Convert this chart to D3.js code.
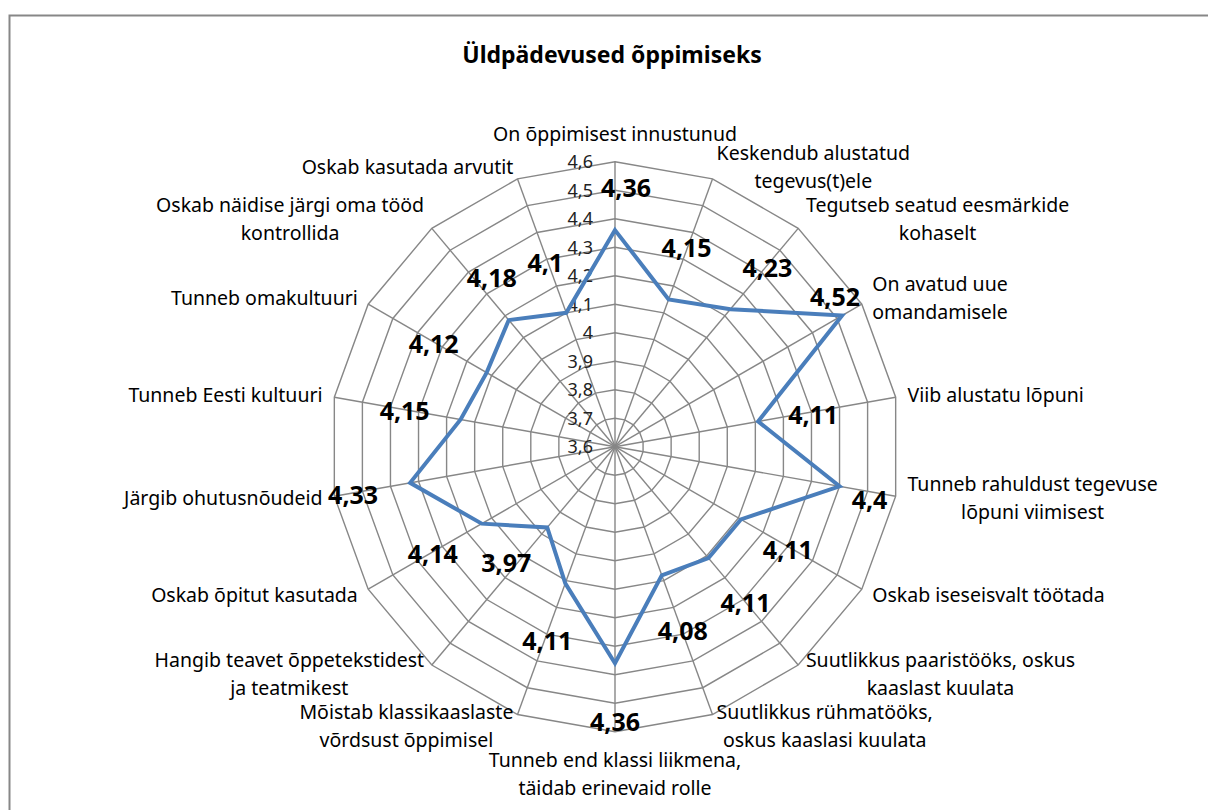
<!DOCTYPE html>
<meta charset="utf-8">
<style>
body { margin: 0; background: #fff; }
text { font-family: "Noto Sans", sans-serif; fill: #000; }
</style>
<body>
<script src="https://d3js.org/d3.v7.min.js"></script>
<script>

var width = 1208,
    height = 810;

// chart data
var categories = [
  "On õppimisest innustunud",
  "Keskendub alustatud\ntegevus(t)ele",
  "Tegutseb seatud eesmärkide\nkohaselt",
  "On avatud uue\nomandamisele",
  "Viib alustatu lõpuni",
  "Tunneb rahuldust tegevuse\nlõpuni viimisest",
  "Oskab iseseisvalt töötada",
  "Suutlikkus paaristööks, oskus\nkaaslast kuulata",
  "Suutlikkus rühmatööks,\noskus kaaslasi kuulata",
  "Tunneb end klassi liikmena,\ntäidab erinevaid rolle",
  "Mõistab klassikaaslaste\nvõrdsust õppimisel",
  "Hangib teavet õppetekstidest\nja teatmikest",
  "Oskab õpitut kasutada",
  "Järgib ohutusnõudeid",
  "Tunneb Eesti kultuuri",
  "Tunneb omakultuuri",
  "Oskab näidise järgi oma tööd\nkontrollida",
  "Oskab kasutada arvutit"
];
var values = [4.36, 4.15, 4.23, 4.52, 4.11, 4.4, 4.11, 4.11, 4.08, 4.36, 4.11, 3.97, 4.14, 4.33, 4.15, 4.12, 4.18, 4.1];
var tickValues = [3.6, 3.7, 3.8, 3.9, 4.0, 4.1, 4.2, 4.3, 4.4, 4.5, 4.6];
var tickLabels = ["3,6", "3,7", "3,8", "3,9", "4", "4,1", "4,2", "4,3", "4,4", "4,5", "4,6"];
var title = "Üldpädevused õppimiseks";

// layout: where each value label sits relative to its point (px)
var labelNudge = [[11,-42],[18,-51],[37,-41],[-7,-18],[55,-6],[30,14],[47,31],[37,45],[21,56],
                  [0,59],[-18,58],[-41,36],[-49,31],[-57,12],[-56,-8],[-53,-28],[-17,-42],[-21,-50]];

var cx = 615, cy = 446.7, R = 285;

var svg = d3.select("body").append("svg")
    .attr("width", width)
    .attr("height", height);

svg.append("rect")
    .attr("x", 9.5).attr("y", 15.5)
    .attr("width", 1220).attr("height", 820)
    .style("fill", "#fff")
    .style("stroke", "#878787")
    .style("stroke-width", 2);

svg.append("text")
    .attr("x", 612).attr("y", 63)
    .attr("text-anchor", "middle")
    .style("font-size", "23px")
    .style("font-weight", "bold")
    .text(title);

var r = d3.scaleLinear().domain([3.6, 4.6]).range([0, R]);
var angle = d3.scaleLinear().domain([0, categories.length]).range([0, 2 * Math.PI]);

var g = svg.append("g").attr("transform", "translate(" + cx + "," + cy + ")");

function pt(i, v) {
  var a = angle(i);
  return [Math.sin(a) * r(v), -Math.cos(a) * r(v)];
}

var ring = d3.lineRadial()
    .angle(function(d, i) { return angle(i); })
    .curve(d3.curveLinearClosed);

// grid rings
g.selectAll("path.ring")
    .data(tickValues.slice(1))
    .enter().append("path")
    .attr("class", "ring")
    .attr("d", function(t) { return ring.radius(function() { return r(t); })(categories); })
    .style("fill", "none")
    .style("stroke", "#878787")
    .style("stroke-width", 1.4);

// spokes
g.selectAll("line.spoke")
    .data(categories)
    .enter().append("line")
    .attr("class", "spoke")
    .attr("x1", 0).attr("y1", 0)
    .attr("x2", function(d, i) { return pt(i, 4.6)[0]; })
    .attr("y2", function(d, i) { return pt(i, 4.6)[1]; })
    .style("stroke", "#878787")
    .style("stroke-width", 1.4);

// tick labels
g.selectAll("text.tick")
    .data(tickValues)
    .enter().append("text")
    .attr("class", "tick")
    .attr("x", -22)
    .attr("y", function(t) { return -r(t); })
    .attr("dy", "0.35em")
    .attr("text-anchor", "end")
    .style("font-size", "18px")
    .style("fill", "#222")
    .text(function(t, i) { return tickLabels[i]; });

// data line
g.append("path")
    .datum(values)
    .attr("d", d3.lineRadial()
        .angle(function(d, i) { return angle(i); })
        .radius(function(d) { return r(d); })
        .curve(d3.curveLinearClosed))
    .style("fill", "none")
    .style("stroke", "#4a7ebb")
    .style("stroke-width", 4)
    .style("stroke-linejoin", "miter");

// category labels
var lh = 28;
categories.forEach(function(c, i) {
  var a = angle(i), s = Math.sin(a), co = Math.cos(a);
  var p = pt(i, 4.6);
  var ax = p[0] + 12 * s, ay = p[1] - 12 * co;
  var lines = c.split("\n");
  var grp = g.append("g");
  var texts = lines.map(function(l) {
    return grp.append("text").style("font-size", "19.5px").attr("text-anchor", "middle").text(l);
  });
  var w = d3.max(texts, function(t) { return t.node().getComputedTextLength(); });
  var h = lines.length * lh;
  var left, top;
  if (Math.abs(s) < 0.01) {
    left = ax - w / 2;
    top = co > 0 ? ay - 2 - h : ay + 2;
  } else {
    left = s > 0 ? ax : ax - w;
    top = ay - h / 2;
  }
  texts.forEach(function(t, k) {
    t.attr("x", left + w / 2).attr("y", top + lh * (k + 0.5)).attr("dy", "0.35em");
  });
});

// value labels
g.selectAll("text.val")
    .data(values)
    .enter().append("text")
    .attr("class", "val")
    .attr("x", function(d, i) { return pt(i, d)[0] + labelNudge[i][0]; })
    .attr("y", function(d, i) { return pt(i, d)[1] + labelNudge[i][1]; })
    .attr("dy", "0.35em")
    .attr("text-anchor", "middle")
    .style("font-size", "25px")
    .style("font-weight", "bold")
    .text(function(d) { return String(d).replace(".", ","); });

</script>
